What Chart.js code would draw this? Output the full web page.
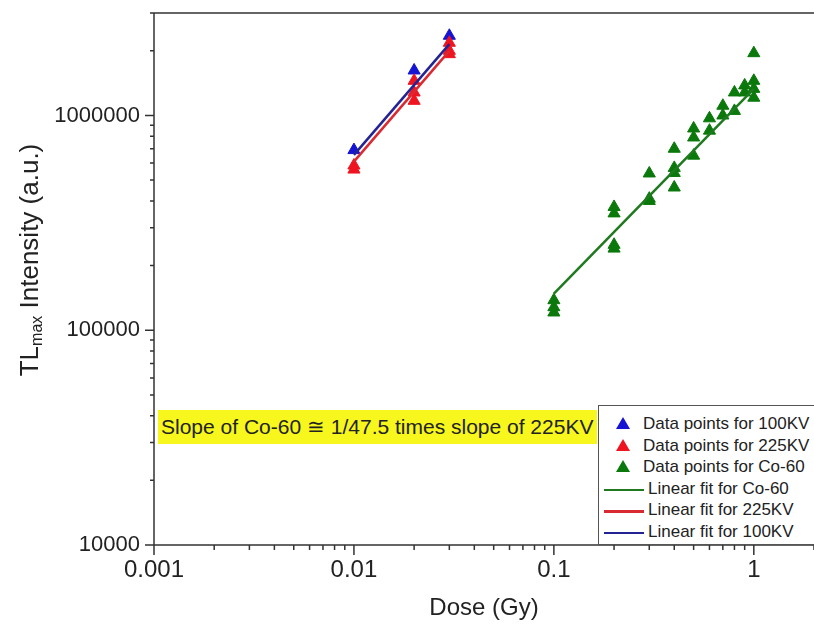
<!DOCTYPE html>
<html>
<head>
<meta charset="utf-8">
<script src="https://cdn.jsdelivr.net/npm/chart.js@4.4.1/dist/chart.umd.min.js"></script>
<style>
  html, body { margin: 0; padding: 0; background: #fff; overflow: hidden; }
  #wrap { position: relative; width: 814px; height: 628px; }
  #legend { position: absolute; left: 598px; top: 405px; width: 240px; height: 140px; border: 1px solid #555; border-right: none; box-sizing: border-box; background: #fff; font-family: "Liberation Sans", Arial, sans-serif; font-size: 17px; color: #222; }
  .row { position: absolute; left: 0; height: 20px; line-height: 20px; white-space: nowrap; }
  .tri { position: absolute; width: 0; height: 0; border-left: 7px solid transparent; border-right: 7px solid transparent; border-bottom: 12px solid; top: 3px; }
  .ln { position: absolute; height: 2.5px; width: 40px; left: 5px; top: 10px; }
  #note { position: absolute; left: 158px; top: 410px; width: 439px; height: 34px; background: #f7f71e; font-family: "Liberation Sans", Arial, sans-serif; font-size: 21px; color: #222; line-height: 34px; padding-left: 3px; box-sizing: border-box; white-space: nowrap; }
</style>
</head>
<body>
<div id="wrap">
  <canvas id="c" width="814" height="628"></canvas>
  <div id="note">Slope of Co-60 &#8773; 1/47.5 times slope of 225KV</div>
  <div id="legend"></div>
</div>
<script>
// ---- data ----
const dose100 = [0.01, 0.02, 0.03];
const tl100   = [690000, 1620000, 2350000];
const dose225 = [0.01, 0.01, 0.02, 0.02, 0.02, 0.03, 0.03, 0.03];
const tl225   = [585000, 560000, 1450000, 1280000, 1170000, 2180000, 2000000, 1930000];
const doseCo  = [0.1, 0.1, 0.1, 0.2, 0.2, 0.2, 0.2, 0.3, 0.3, 0.3, 0.4, 0.4, 0.4, 0.4, 0.5, 0.5, 0.5, 0.6, 0.6, 0.7, 0.7, 0.8, 0.8, 0.9, 0.9, 1.0, 1.0, 1.0, 1.0];
const tlCo    = [138000, 128000, 121000, 375000, 350000, 250000, 240000, 537000, 410000, 400000, 700000, 570000, 540000, 462000, 870000, 790000, 650000, 970000, 850000, 1110000, 1000000, 1280000, 1050000, 1380000, 1280000, 1950000, 1450000, 1330000, 1210000];
const fitDoseCo = [0.1, 1.0];
const fitCo     = [148000, 1330000];
const fitDose225 = [0.01, 0.03];
const fit225     = [610000, 2000000];
const fitDose100 = [0.01, 0.03];
const fit100     = [655000, 2150000];
const xTickValues = [0.001, 0.01, 0.1, 1];
const xTickLabels = ['0.001', '0.01', '0.1', '1'];
const yTickValues = [10000, 100000, 1000000];
const yTickLabels = ['10000', '100000', '1000000'];
const legendLabels = ['Data points for 100KV', 'Data points for 225KV', 'Data points for Co-60', 'Linear fit for Co-60', 'Linear fit for 225KV', 'Linear fit for 100KV'];

const BLUE = '#1414d2', RED = '#ee1520', GREEN = '#0a780a';
const BLUE_L = '#232394', RED_L = '#d82a30', GREEN_L = '#1f7a1f';
const pts = (xs, ys) => xs.map((x, i) => ({x, y: ys[i]}));
const FONT = '"Liberation Sans", Arial, sans-serif';

const tickPlugin = {
  id: 'ticks',
  afterDraw(chart) {
    const {ctx, chartArea: a, scales: {x, y}} = chart;
    ctx.save();
    ctx.strokeStyle = '#333';
    ctx.lineWidth = 1.5;
    ctx.beginPath();
    ctx.moveTo(a.left - 4, a.top); ctx.lineTo(a.right, a.top);
    ctx.moveTo(a.left, a.top); ctx.lineTo(a.left, a.bottom + 1);
    ctx.moveTo(a.left - 9, a.bottom); ctx.lineTo(a.right, a.bottom);
    for (let e = -3; e <= 0; e++) {
      for (let m = 1; m <= 9; m++) {
        const v = m * Math.pow(10, e);
        if (v > x.max) break;
        const px = x.getPixelForValue(v);
        ctx.moveTo(px, a.bottom); ctx.lineTo(px, a.bottom + (m === 1 ? 10 : 5));
      }
    }
    for (let e = 4; e <= 6; e++) {
      for (let m = 1; m <= 9; m++) {
        const v = m * Math.pow(10, e);
        if (v > y.max) break;
        const py = y.getPixelForValue(v);
        ctx.moveTo(a.left, py); ctx.lineTo(a.left - (m === 1 ? 9 : 4), py);
      }
    }
    ctx.stroke();
    // y-axis title with subscript
    ctx.fillStyle = '#222';
    ctx.translate(31, 260);
    ctx.rotate(-Math.PI / 2);
    ctx.textBaseline = 'middle';
    const big = '26px ' + FONT;
    const small = '16px ' + FONT;
    ctx.font = big; const w1 = ctx.measureText('TL').width;
    ctx.font = small; const w2 = ctx.measureText('max').width;
    ctx.font = big; const w3 = ctx.measureText(' Intensity (a.u.)').width;
    let sx = -(w1 + w2 + w3) / 2;
    ctx.textAlign = 'left';
    ctx.font = big; ctx.fillText('TL', sx, 0); sx += w1;
    ctx.font = small; ctx.fillText('max', sx, 7); sx += w2;
    ctx.font = big; ctx.fillText(' Intensity (a.u.)', sx, 0);
    ctx.restore();
  }
};

new Chart(document.getElementById('c'), {
  type: 'scatter',
  data: {
    datasets: [
      {label: legendLabels[5], type: 'line', data: pts(fitDose100, fit100), borderColor: BLUE_L, borderWidth: 2.5, pointRadius: 0, order: 1},
      {label: legendLabels[4], type: 'line', data: pts(fitDose225, fit225), borderColor: RED_L, borderWidth: 2.5, pointRadius: 0, order: 2},
      {label: legendLabels[3], type: 'line', data: pts(fitDoseCo, fitCo), borderColor: GREEN_L, borderWidth: 2.5, pointRadius: 0, order: 3},
      {label: legendLabels[1], data: pts(dose225, tl225), backgroundColor: RED, borderColor: RED, pointStyle: 'triangle', pointRadius: 7, order: 4},
      {label: legendLabels[0], data: pts(dose100, tl100), backgroundColor: BLUE, borderColor: BLUE, pointStyle: 'triangle', pointRadius: 7, order: 5},
      {label: legendLabels[2], data: pts(doseCo, tlCo), backgroundColor: GREEN, borderColor: GREEN, pointStyle: 'triangle', pointRadius: 7, order: 6}
    ]
  },
  options: {
    responsive: false,
    animation: false,
    layout: {autoPadding: false, padding: {top: 13, right: 0, left: 0, bottom: 0}},
    plugins: {legend: {display: false}, tooltip: {enabled: false}},
    scales: {
      x: {
        type: 'logarithmic', min: 0.001, max: 2,
        afterBuildTicks: s => { s.ticks = xTickValues.map(v => ({value: v})); },
        afterFit: s => { s.height = 83; s.paddingLeft = 0; s.paddingRight = 0; },
        grid: {display: true, drawOnChartArea: false, color: 'rgba(0,0,0,0)', tickLength: 10},
        border: {display: false},
        ticks: {callback: (v, i) => xTickLabels[i], color: '#222', font: {family: FONT, size: 24}, padding: 1, maxRotation: 0, autoSkip: false},
        title: {display: true, text: 'Dose (Gy)', color: '#222', font: {family: FONT, size: 24}, padding: {bottom: 5}}
      },
      y: {
        type: 'logarithmic', min: 10000, max: 3000000,
        afterBuildTicks: s => { s.ticks = yTickValues.map(v => ({value: v})); },
        afterFit: s => { s.width = 154; s.paddingTop = 0; s.paddingBottom = 0; },
        grid: {display: true, drawOnChartArea: false, color: 'rgba(0,0,0,0)', tickLength: 10},
        border: {display: false},
        ticks: {callback: (v, i) => yTickLabels[i], color: '#222', font: {family: FONT, size: 22}, padding: 4, autoSkip: false}
      }
    }
  },
  plugins: [tickPlugin]
});

// legend (HTML)
const leg = document.getElementById('legend');
const items = [
  {t: 'tri', c: BLUE}, {t: 'tri', c: RED}, {t: 'tri', c: GREEN},
  {t: 'ln', c: GREEN_L}, {t: 'ln', c: RED_L}, {t: 'ln', c: BLUE_L}
];
items.forEach((it, i) => {
  const row = document.createElement('div');
  row.className = 'row';
  row.style.top = (8 + i * 21.5) + 'px';
  row.style.width = '240px';
  const mk = document.createElement('div');
  mk.className = it.t;
  if (it.t === 'tri') { mk.style.borderBottomColor = it.c; mk.style.left = '17px'; }
  else { mk.style.background = it.c; }
  row.appendChild(mk);
  const sp = document.createElement('span');
  sp.textContent = legendLabels[i];
  sp.style.position = 'absolute';
  sp.style.left = it.t === 'tri' ? '44px' : '49px';
  row.appendChild(sp);
  leg.appendChild(row);
});
</script>
</body>
</html>
